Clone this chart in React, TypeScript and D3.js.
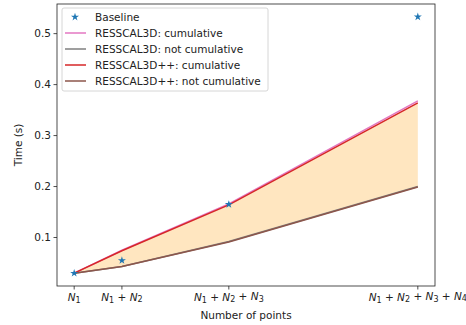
import React, { useEffect, useRef } from "react";
import * as d3 from "d3";

// cumulative point counts N1, N1+N2, ...
const points = [5000, 10000, 21200, 41000];
const tickParts = [[1], [1, 2], [1, 2, 3], [1, 2, 3, 4]];
const baseline = [0.03, 0.055, 0.165, 0.533];
const resCum = [0.03, 0.075, 0.166, 0.368];
const resNotCum = [0.03, 0.043, 0.092, 0.2];
const resppCum = [0.03, 0.074, 0.164, 0.364];
const resppNotCum = [0.03, 0.043, 0.091, 0.199];
const yTicks = [0.1, 0.2, 0.3, 0.4, 0.5];

const series = [
  { name: "RESSCAL3D: cumulative", values: resCum, color: "#e377c2" },
  { name: "RESSCAL3D: not cumulative", values: resNotCum, color: "#7f7f7f" },
  { name: "RESSCAL3D++: cumulative", values: resppCum, color: "#d62728" },
  { name: "RESSCAL3D++: not cumulative", values: resppNotCum, color: "#8c564b" },
];

const W = 466;
const H = 325;
const margin = { top: 4, right: 31, bottom: 39, left: 57 };
const font = "DejaVu Sans, sans-serif";
const fs = 10.5;

const App = () => {
  const ref = useRef<SVGSVGElement>(null);

  useEffect(() => {
    const svg = d3.select(ref.current);
    svg.selectAll("*").remove();

    const iw = W - margin.left - margin.right;
    const ih = H - margin.top - margin.bottom;

    const xMin = points[0], xMax = points[points.length - 1];
    const xPad = (xMax - xMin) * 0.05;
    const x = d3.scaleLinear().domain([xMin - xPad, xMax + xPad]).range([0, iw]);
    const yMin = 0.03, yMax = 0.533;
    const yPad = (yMax - yMin) * 0.05;
    const y = d3.scaleLinear().domain([yMin - yPad, yMax + yPad]).range([ih, 0]);

    const g = svg.append("g").attr("transform", `translate(${margin.left},${margin.top})`);

    // shaded band between cumulative and not cumulative
    const area = d3
      .area<number>()
      .x((_, i) => x(points[i]))
      .y0((_, i) => y(resppNotCum[i]))
      .y1((d) => y(d));
    g.append("path").datum(resppCum).attr("d", area).attr("fill", "#ffe6c0");

    const line = d3
      .line<number>()
      .x((_, i) => x(points[i]))
      .y((d) => y(d));
    series.forEach((s) => {
      g.append("path")
        .datum(s.values)
        .attr("d", line)
        .attr("fill", "none")
        .attr("stroke", s.color)
        .attr("stroke-width", 1.5);
    });

    const star = d3.symbol().type(d3.symbolStar).size(20);
    g.selectAll(".star")
      .data(baseline)
      .enter()
      .append("path")
      .attr("d", star)
      .attr("transform", (d, i) => `translate(${x(points[i])},${y(d)})`)
      .attr("fill", "#1f77b4");

    // frame
    g.append("rect")
      .attr("width", iw)
      .attr("height", ih)
      .attr("fill", "none")
      .attr("stroke", "#222")
      .attr("stroke-width", 0.8);

    // y axis
    const yAxis = g.append("g");
    yTicks.forEach((t) => {
      yAxis.append("line")
        .attr("x1", -3.5).attr("x2", 0)
        .attr("y1", y(t)).attr("y2", y(t))
        .attr("stroke", "#222").attr("stroke-width", 0.8);
      yAxis.append("text")
        .attr("x", -6).attr("y", y(t))
        .attr("dy", "0.35em")
        .attr("text-anchor", "end")
        .attr("font-size", fs).attr("font-family", font)
        .attr("fill", "#222")
        .text(t.toFixed(1));
    });

    // x axis with math labels
    const xAxis = g.append("g").attr("transform", `translate(0,${ih})`);
    points.forEach((p, i) => {
      xAxis.append("line")
        .attr("x1", x(p)).attr("x2", x(p))
        .attr("y1", 0).attr("y2", 3.5)
        .attr("stroke", "#222").attr("stroke-width", 0.8);
      const txt = xAxis.append("text")
        .attr("x", x(p)).attr("y", 15)
        .attr("text-anchor", "middle")
        .attr("font-size", fs).attr("font-family", font)
        .attr("fill", "#222");
      tickParts[i].forEach((n, k) => {
        if (k > 0) txt.append("tspan").attr("dy", "-0.2em").text(" + ");
        txt.append("tspan")
          .attr("font-style", "italic")
          .attr("dy", k > 0 ? "0" : null)
          .text("N");
        txt.append("tspan").attr("font-size", 8).attr("dy", "0.2em").text(String(n));
      });
    });

    g.append("text")
      .attr("x", iw / 2).attr("y", ih + 33)
      .attr("text-anchor", "middle")
      .attr("font-size", fs).attr("font-family", font)
      .attr("fill", "#222")
      .text("Number of points");

    g.append("text")
      .attr("transform", `translate(${-35},${ih / 2}) rotate(-90)`)
      .attr("text-anchor", "middle")
      .attr("font-size", fs).attr("font-family", font)
      .attr("fill", "#222")
      .text("Time (s)");

    // legend
    const lg = g.append("g").attr("transform", "translate(5,4)");
    lg.append("rect")
      .attr("width", 206).attr("height", 83)
      .attr("rx", 2)
      .attr("fill", "white").attr("fill-opacity", 0.8)
      .attr("stroke", "#ccc").attr("stroke-width", 0.8);
    const rowY = (i: number) => 9 + i * 16;
    lg.append("path")
      .attr("d", star)
      .attr("transform", `translate(13,${rowY(0)})`)
      .attr("fill", "#1f77b4");
    lg.append("text")
      .attr("x", 33).attr("y", rowY(0)).attr("dy", "0.35em")
      .attr("font-size", fs).attr("font-family", font).attr("fill", "#222")
      .text("Baseline");
    series.forEach((s, i) => {
      lg.append("line")
        .attr("x1", 3).attr("x2", 24)
        .attr("y1", rowY(i + 1)).attr("y2", rowY(i + 1))
        .attr("stroke", s.color).attr("stroke-width", 1.5);
      lg.append("text")
        .attr("x", 33).attr("y", rowY(i + 1)).attr("dy", "0.35em")
        .attr("font-size", fs).attr("font-family", font).attr("fill", "#222")
        .text(s.name);
    });
  }, []);

  return <svg ref={ref} width={W} height={H} style={{ position: "absolute", left: 0, top: 0 }} />;
};

export default App;
